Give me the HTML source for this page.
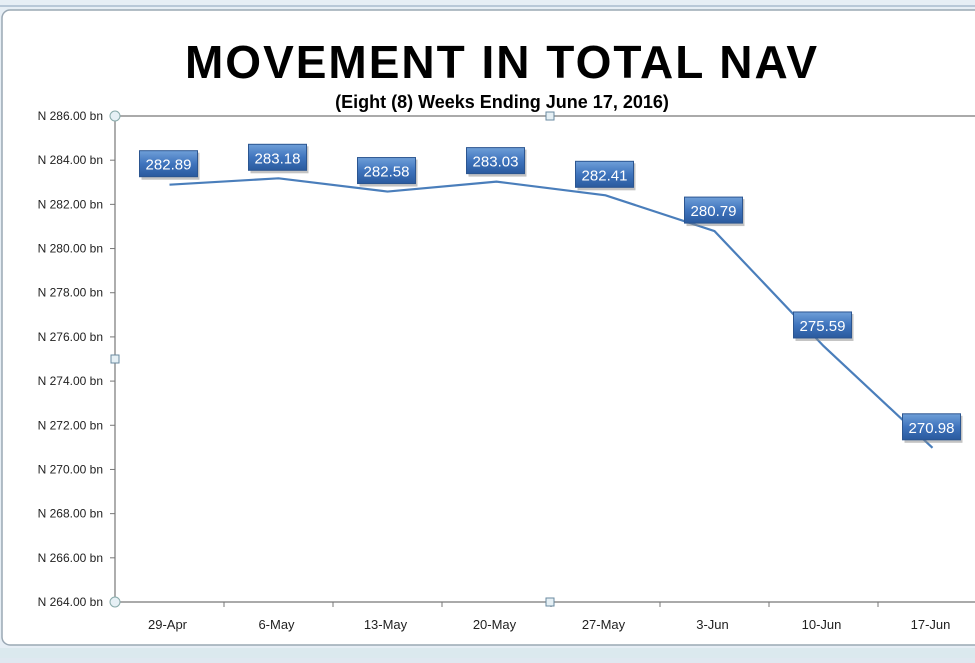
<!DOCTYPE html>
<html><head><meta charset="utf-8"><style>
body{margin:0;width:975px;height:658px;overflow:hidden;background:#dfe8f0;font-family:"Liberation Sans",sans-serif}
</style></head><body>
<svg width="975" height="658" xmlns="http://www.w3.org/2000/svg">
<defs>
<linearGradient id="bg" x1="0" y1="0" x2="0" y2="1"><stop offset="0" stop-color="#6f9fd8"/><stop offset="0.5" stop-color="#3f74bd"/><stop offset="1" stop-color="#2a5a9e"/></linearGradient>
</defs>
<rect x="0" y="0" width="975" height="658" fill="#e6eef5"/>
<rect x="0" y="5" width="975" height="2" fill="#b8c8d8"/>
<rect x="2" y="10" width="985" height="635" rx="8" fill="#fff" stroke="#9aa8b4" stroke-width="1.5"/>
<rect x="0" y="648" width="975" height="10" fill="#dbe9ee"/>
<text x="502" y="78" text-anchor="middle" font-size="46" font-weight="bold" font-family="'Liberation Sans',sans-serif" letter-spacing="2">MOVEMENT IN TOTAL NAV</text>
<text x="502" y="108" text-anchor="middle" font-size="18" font-weight="bold">(Eight (8) Weeks Ending June 17, 2016)</text>
<g id="axes"></g>
<g id="marks"></g>
</svg>
<script>
const categories=["29-Apr","6-May","13-May","20-May","27-May","3-Jun","10-Jun","17-Jun"];
const navValues=[282.89,283.18,282.58,283.03,282.41,280.79,275.59,270.98];
const yTicks=[264,266,268,270,272,274,276,278,280,282,284,286];
const NS="http://www.w3.org/2000/svg";
const L=115,T=116,B=602,STEP=109,YMIN=264,YMAX=286;
const y=v=>B-(v-YMIN)/(YMAX-YMIN)*(B-T);
const x=i=>L+STEP*(i+0.5);
function mk(tag,attrs,parent){const e=document.createElementNS(NS,tag);for(const k in attrs)e.setAttribute(k,attrs[k]);parent.appendChild(e);return e;}
const ax=document.getElementById('axes'),mg=document.getElementById('marks');
let e=mk('line',{x1:L,y1:T,x2:975,y2:T,stroke:'#777','stroke-width':1.2},ax);

e=mk('line',{x1:L,y1:T,x2:L,y2:B,stroke:'#777','stroke-width':1.2},ax);

e=mk('line',{x1:L,y1:B,x2:975,y2:B,stroke:'#777','stroke-width':1.2},ax);

yTicks.forEach(v=>{
 mk('line',{x1:L-5,y1:y(v),x2:L,y2:y(v),stroke:'#777'},ax);
 const t=mk('text',{x:L-12,y:y(v)+4,'text-anchor':'end','font-size':12,fill:'#222'},ax);
 t.textContent='N '+v.toFixed(2)+' bn';
 
});
categories.forEach((c,i)=>{
 mk('line',{x1:L+STEP*i,y1:B,x2:L+STEP*i,y2:B+5,stroke:'#777'},ax);
 const t=mk('text',{x:x(i)-2,y:B+27,'text-anchor':'middle','font-size':13,fill:'#222'},ax);
 t.textContent=c;
 
});
// handles
[[L,T,'c'],[L,B,'c'],[550,T,'s'],[550,B,'s'],[L,359,'s']].forEach(h=>{
 let el=h[2]=='c'?mk('circle',{cx:h[0],cy:h[1],r:5,fill:'#e6f0f5',stroke:'#8aa','stroke-width':1},ax):mk('rect',{x:h[0]-4,y:h[1]-4,width:8,height:8,fill:'#e6f0f5',stroke:'#6a8aa0'},ax);
 
});
const pl=mk('polyline',{points:navValues.map((v,i)=>x(i)+','+y(v)).join(' '),fill:'none',stroke:'#4a7ebb','stroke-width':2.2},mg);

navValues.forEach((v,i)=>{
 const cx=x(i)-1,by=y(v)-8;
 const g=mk('g',{},mg);
 
 mk('rect',{x:cx-27,y:by-24,width:58,height:27,fill:'#888',opacity:0.5},g);
 mk('rect',{x:cx-29,y:by-26,width:58,height:26,fill:'url(#bg)',stroke:'#2b5590','stroke-width':1},g);
 const t=mk('text',{x:cx,y:by-7,'text-anchor':'middle','font-size':15,fill:'#fff'},g);
 t.textContent=v.toFixed(2);
});
</script>
</body></html>
